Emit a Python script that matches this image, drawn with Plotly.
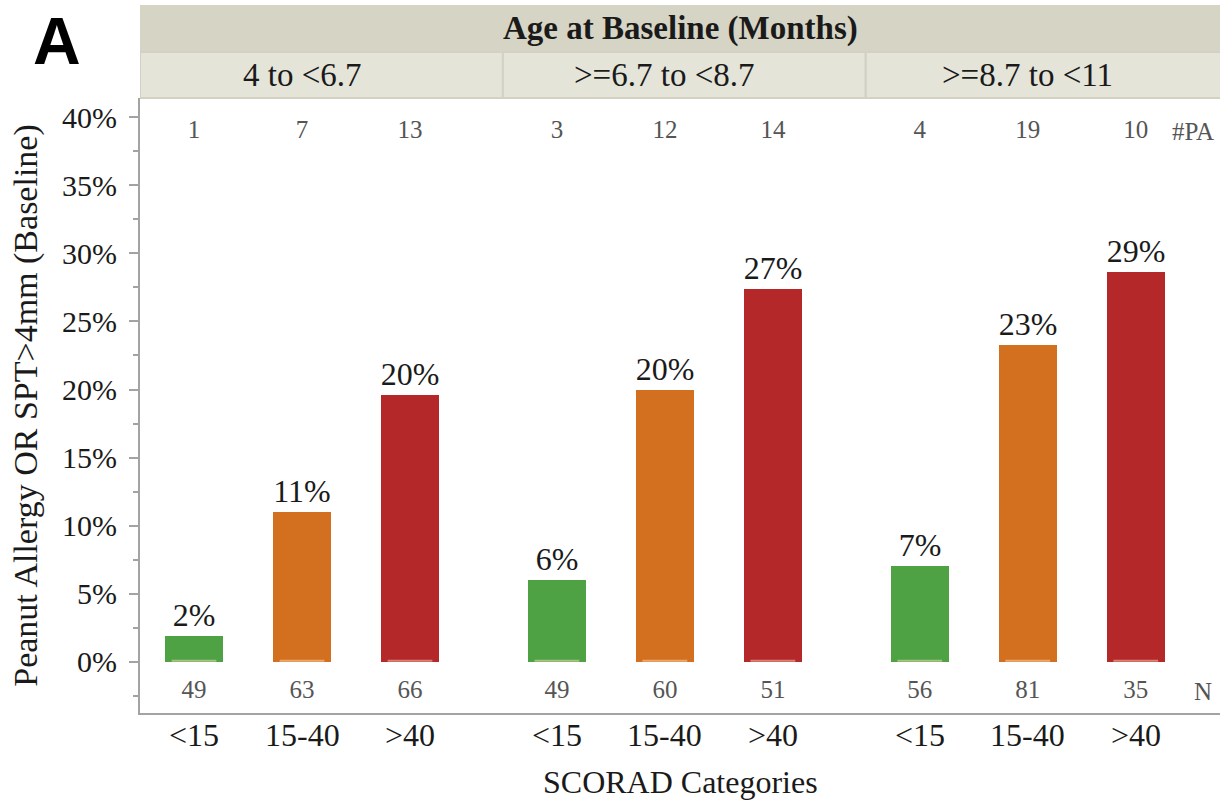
import plotly.graph_objects as go

age_groups = ["4 to <6.7", ">=6.7 to <8.7", ">=8.7 to <11"]
scorad_cats = ["<15", "15-40", ">40"]
bar_colors = ["#4ea244", "#d2701f", "#b4282a"]

# percent with peanut allergy, rows = age group, cols = SCORAD category
pct = [
    [1.9, 11.0, 19.6],
    [6.0, 20.0, 27.4],
    [7.05, 23.3, 28.6],
]
n_pa = [
    [1, 7, 13],
    [3, 12, 14],
    [4, 19, 10],
]
n_total = [
    [49, 63, 66],
    [49, 60, 51],
    [56, 81, 35],
]

group_w = 3.36
x_max = 10.0
serif = "Liberation Serif, Times New Roman, serif"
axis_grey = "#a3a3a3"
txt = "#1a1a1a"

xpos = [[g * group_w + i + 0.5 for i in range(3)] for g in range(3)]
all_x = [x for row in xpos for x in row]

fig = go.Figure()

for i, cat in enumerate(scorad_cats):
    fig.add_trace(go.Bar(
        x=[xpos[g][i] for g in range(3)],
        y=[pct[g][i] for g in range(3)],
        width=0.54,
        marker=dict(color=bar_colors[i], line=dict(width=0)),
        texttemplate="%{y:.0f}%",
        textposition="outside",
        constraintext="none",
        cliponaxis=False,
        textfont=dict(family=serif, size=32, color=txt),
        name=cat,
        showlegend=False,
    ))

# faint light strip at the base of each bar
fig.add_trace(go.Scatter(
    x=all_x, y=[0.08] * len(all_x), mode="markers",
    marker=dict(symbol="line-ew", size=32,
                line=dict(color="rgba(255,225,190,0.5)", width=2)),
    hoverinfo="skip", showlegend=False,
))

# count rows: #PA on top, N at bottom
fig.add_trace(go.Scatter(
    x=all_x, y=[38.95] * 9, mode="text",
    text=[str(v) for row in n_pa for v in row],
    textfont=dict(family=serif, size=25, color="#555555"),
    cliponaxis=False, hoverinfo="skip", showlegend=False,
))
fig.add_trace(go.Scatter(
    x=all_x, y=[-2.2] * 9, mode="text",
    text=[str(v) for row in n_total for v in row],
    textfont=dict(family=serif, size=25, color="#555555"),
    cliponaxis=False, hoverinfo="skip", showlegend=False,
))

shapes = []
# top header band
shapes.append(dict(type="rect", xref="paper", yref="paper",
                   x0=0, x1=1, y0=1.0748, y1=1.1512,
                   fillcolor="#d6d4c4", line=dict(width=0), layer="below"))
# sub-header boxes
for g in range(3):
    shapes.append(dict(type="rect", xref="x", yref="paper",
                       x0=g * group_w, x1=min((g + 1) * group_w, x_max + 0.02),
                       y0=1.0, y1=1.0748,
                       fillcolor="#e5e4d9", line=dict(color="#d2d1c3", width=2),
                       layer="below"))

annotations = [
    dict(text="<b>Age at Baseline (Months)</b>", xref="paper", yref="paper",
         x=0.5, y=1.113, xanchor="center", yanchor="middle", showarrow=False,
         font=dict(family=serif, size=33, color=txt)),
    dict(text="<b>A</b>", xref="paper", yref="paper", x=-0.077, y=1.092,
         xanchor="center", yanchor="middle", showarrow=False,
         font=dict(family="Liberation Sans, Arial, sans-serif", size=66, color="black")),
    dict(text="#PA", xref="paper", yref="y", x=1, y=38.95, xanchor="right",
         yanchor="middle", xshift=-4, showarrow=False,
         font=dict(family=serif, size=25, color="#555555")),
    dict(text="N", xref="paper", yref="y", x=1, y=-2.2, xanchor="right",
         yanchor="middle", xshift=-6, showarrow=False,
         font=dict(family=serif, size=25, color="#555555")),
    dict(text="SCORAD Categories", xref="paper", yref="paper", x=0.5, y=-0.112,
         xanchor="center", yanchor="middle", showarrow=False,
         font=dict(family=serif, size=32, color=txt)),
]
for g, lab in enumerate(age_groups):
    annotations.append(dict(text=lab, xref="x", yref="paper", x=xpos[g][1], y=1.037,
                            xanchor="center", yanchor="middle", showarrow=False,
                            font=dict(family=serif, size=33, color=txt)))
# SCORAD category labels under each bar
for g in range(3):
    for i, cat in enumerate(scorad_cats):
        annotations.append(dict(text=cat, xref="x", yref="paper", x=xpos[g][i], y=-0.0358,
                                xanchor="center", yanchor="middle", showarrow=False,
                                font=dict(family=serif, size=32, color=txt)))

fig.update_layout(
    width=1220, height=802,
    margin=dict(l=140, r=0, t=98, b=89),
    plot_bgcolor="white", paper_bgcolor="white",
    bargap=0, barmode="overlay",
    shapes=shapes, annotations=annotations,
    xaxis=dict(
        range=[0, x_max],
        showticklabels=False,
        ticks="", showgrid=False, zeroline=False,
        showline=True, linecolor=axis_grey, linewidth=2,
    ),
    yaxis=dict(
        range=[-3.75, 41.4],
        tick0=0, dtick=5, ticksuffix="%",
        ticks="outside", ticklen=9, tickwidth=2, tickcolor=axis_grey,
        minor=dict(dtick=2.5, ticks="outside", ticklen=5, tickwidth=2, tickcolor=axis_grey),
        showgrid=False, zeroline=False,
        showline=True, linecolor=axis_grey, linewidth=2,
        ticklabelstandoff=6,
        tickfont=dict(family=serif, size=30, color=txt),
        title=dict(text="Peanut Allergy OR SPT>4mm (Baseline)", standoff=14,
                   font=dict(family=serif, size=34, color=txt)),
    ),
)

fig.write_html(
    "out.html",
    config={"displayModeBar": False},
    post_script="document.body.style.margin='0';document.body.style.overflow='hidden';",
)
